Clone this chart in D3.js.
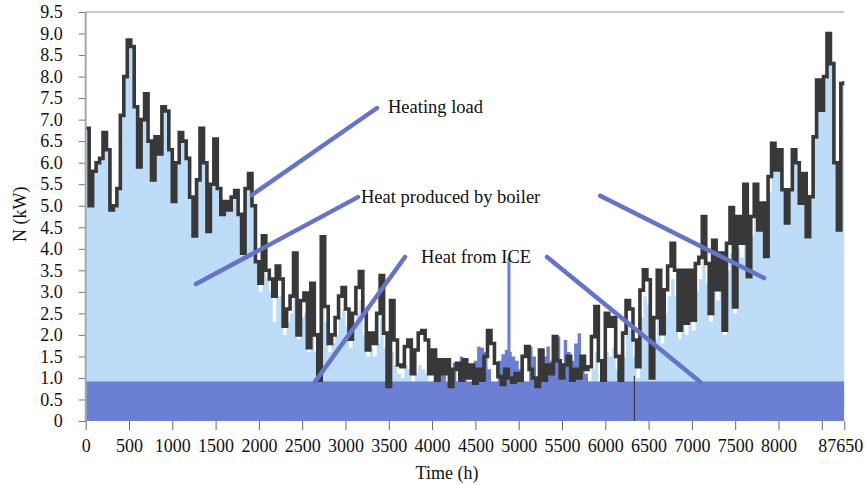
<!DOCTYPE html>
<html>
<head>
<meta charset="utf-8">
<script src="https://cdn.jsdelivr.net/npm/d3@7"></script>
<style>
  body { margin: 0; background: #fff; }
  text { font-family: "Liberation Serif", "Times New Roman", serif; fill: #111; }
</style>
</head>
<body>
<svg id="chart" width="865" height="485" font-family="Liberation Serif, Times New Roman, serif"></svg>
<script>
// ---------------- DATA ----------------
const STEP_HOURS = 40; // one value every 40 h, 0 .. 8760 h

// Heating load (dark line), kW
const heatingLoad = [
  6.8, 5.0, 5.8, 6.0, 6.1, 6.7, 6.3, 4.9, 5.0, 5.4,
  7.1, 8.0, 8.85, 8.7, 7.3, 5.9, 7.0, 7.6, 6.5, 5.6,
  6.6, 6.2, 7.3, 7.2, 6.3, 5.1, 6.0, 6.7, 6.5, 6.1,
  5.2, 4.3, 5.6, 6.8, 6.0, 4.4, 5.5, 6.55, 5.4, 4.8,
  5.1, 4.9, 5.2, 5.35, 4.8, 3.9, 5.4, 5.75, 5.0, 3.7,
  3.2, 4.3, 3.5, 3.3, 2.9, 3.6, 3.3, 2.2, 2.6, 2.9,
  3.9, 2.0, 2.8, 2.97, 1.7, 3.2, 2.0, 0.95, 4.28, 2.66,
  1.8, 2.0, 2.4, 2.9, 3.1, 2.6, 1.9, 2.5, 3.1, 3.47,
  2.5, 1.65, 2.04, 1.8, 2.5, 3.38, 2.04, 0.8, 2.8, 1.88,
  1.3, 1.26, 1.73, 1.88, 1.1, 1.65, 2.04, 2.1, 1.88, 1.1,
  1.65, 0.95, 1.42, 1.1, 1.42, 0.8, 1.2, 1.34, 0.95, 1.42,
  1.0, 1.3, 0.88, 1.2, 0.95, 1.5, 2.1, 1.8, 1.34, 1.03,
  0.85, 1.2, 1.0, 0.9, 1.1, 0.95, 1.5, 1.73, 1.2, 1.0,
  0.8, 1.65, 0.95, 1.3, 1.1, 1.96, 1.4, 1.0, 1.3, 1.5,
  0.95, 1.2, 1.0, 1.5, 1.2, 1.26, 1.96, 2.66, 1.4, 0.95,
  2.5, 2.2, 2.4, 1.5, 0.95, 2.04, 2.8, 2.6, 1.88, 1.26,
  3.04, 3.51, 3.28, 1.0, 2.4, 3.5, 2.03, 3.05, 3.6, 4.13,
  3.5, 2.11, 3.5, 2.27, 3.5, 2.34, 3.66, 3.8, 4.75, 3.66,
  2.5, 4.2, 3.05, 3.9, 2.11, 4.13, 4.96, 2.65, 4.75, 4.13,
  5.5, 3.35, 4.75, 5.5, 4.44, 5.06, 3.82, 5.68, 6.45, 5.83,
  6.3, 5.37, 4.6, 5.37, 6.3, 6.0, 5.06, 5.75, 4.28, 5.21,
  6.6, 7.92, 7.22, 8.0, 9.0, 8.3, 6.0, 4.44, 7.84, 7.9
];

// Heat produced (boiler on top of ICE), light-blue area top, kW
const heatProduced = [
  6.8, 5.0, 5.8, 6.0, 6.1, 6.7, 6.3, 4.9, 5.0, 5.4,
  7.1, 8.0, 8.85, 8.7, 7.3, 5.9, 7.0, 7.6, 6.5, 5.6,
  6.6, 6.2, 7.3, 7.2, 6.3, 5.1, 6.0, 6.7, 6.5, 6.1,
  5.2, 4.3, 5.6, 6.8, 6.0, 4.4, 5.5, 6.55, 5.4, 4.8,
  5.1, 4.9, 5.2, 5.35, 4.8, 3.9, 5.4, 5.75, 5.0, 3.7,
  3.0, 3.5, 3.3, 3.0, 2.3, 2.9, 2.9, 2.0, 2.3, 2.5,
  2.9, 1.9, 2.4, 2.5, 1.6, 2.2, 1.6, 0.92, 2.9, 2.3,
  1.6, 1.8, 2.0, 2.4, 2.6, 2.2, 1.7, 2.1, 2.5, 2.8,
  2.0, 1.5, 1.7, 1.5, 1.8, 2.4, 1.7, 0.92, 1.6, 1.3,
  1.1, 1.0, 1.3, 1.2, 0.92, 1.1, 1.3, 1.2, 1.1, 0.92,
  0.92, 0.92, 0.92, 0.92, 0.92, 0.92, 0.92, 0.92, 0.92, 0.92,
  0.92, 0.92, 0.92, 0.92, 0.92, 0.92, 0.92, 0.92, 0.92, 0.92,
  0.92, 0.92, 0.92, 0.92, 0.92, 0.92, 0.92, 0.92, 0.92, 0.92,
  0.92, 0.92, 0.92, 0.92, 0.92, 0.92, 0.92, 0.92, 0.92, 0.92,
  0.92, 0.92, 0.92, 0.92, 0.92, 0.92, 1.2, 1.6, 0.92, 0.92,
  1.6, 1.5, 1.7, 1.2, 0.92, 1.5, 2.2, 2.1, 1.5, 1.0,
  2.4, 2.9, 2.7, 1.0, 1.9, 2.8, 1.8, 2.5, 2.9, 3.3,
  2.9, 1.9, 2.8, 2.0, 2.8, 2.1, 3.0, 3.3, 3.9, 3.2,
  2.3, 3.5, 2.8, 3.3, 2.0, 3.5, 3.9, 2.5, 4.0, 3.8,
  4.5, 3.3, 4.3, 4.8, 4.4, 4.8, 3.8, 5.3, 6.0, 5.8,
  6.3, 5.37, 4.6, 5.37, 6.3, 6.0, 5.06, 5.75, 4.28, 5.21,
  6.6, 7.92, 7.22, 8.0, 9.0, 8.3, 6.0, 4.44, 7.84, 7.9
];

// Heat from ICE (step series), kW
const iceHours = [0, 4040, 4080, 4120, 4160, 4200, 4240, 4280, 4320, 4360,
  4400, 4480, 4520, 4560, 4600, 4640, 4680, 4760, 4800, 4840,
  4870, 4905, 4920, 4960, 5000, 5040, 5120, 5160, 5200, 5240,
  5280, 5320, 5360, 5400, 5440, 5480, 5520, 5560, 5600, 5640,
  5680, 5720, 5760, 5800, 8760];
const iceHeat = [0.92, 0.92, 1.3, 1.1, 0.92, 1.2, 1.35, 0.92, 1.5, 1.2,
  0.92, 1.4, 1.73, 1.7, 1.6, 1.2, 0.92, 1.4, 1.55, 1.65,
  3.8, 1.6, 1.5, 1.4, 1.2, 0.92, 1.73, 1.5, 0.92, 1.3,
  1.5, 1.73, 1.4, 1.6, 1.96, 1.3, 1.88, 1.6, 1.4, 1.8,
  2.04, 1.4, 1.1, 0.92, 0.92];

// Single-hour drop of the load to zero
const loadDropHour = 6336;
const loadDropRange = [0, 1.05];

// Axis ticks
const yTickValues = [0, 0.5, 1, 1.5, 2, 2.5, 3, 3.5, 4, 4.5, 5, 5.5, 6, 6.5, 7, 7.5, 8, 8.5, 9, 9.5];
const xTickValues = [0, 500, 1000, 1500, 2000, 2500, 3000, 3500, 4000, 4500, 5000, 5500, 6000, 6500, 7000, 7500, 8000, 8500, 8760];
const xTickLabels = ["0", "500", "1000", "1500", "2000", "2500", "3000", "3500", "4000", "4500", "5000", "5500", "6000", "6500", "7000", "7500", "8000", "", "87650"];

// Annotation texts (anchor in data units) and leader lines [h1, v1, h2, v2]
const annotationTexts = [
  { text: "Heating load", h: 3491, v: 7.15 },
  { text: "Heat produced by boiler", h: 3179, v: 5.07 },
  { text: "Heat from ICE", h: 3873, v: 3.67 }
];
const leaderLines = [
  [1920, 5.25, 3364, 7.27],
  [1274, 3.18, 3144, 5.20],
  [2647, 0.91, 3687, 3.81],
  [5327, 3.81, 7093, 0.91],
  [5941, 5.23, 7834, 3.32]
];

// ---------------- CHART ----------------
const FONT = "'Liberation Serif', 'Times New Roman', serif";
const svg = d3.select("#chart");
const x = d3.scaleLinear().domain([0, 8760]).range([85.7, 844.3]);
const y = d3.scaleLinear().domain([0, 9.5]).range([421, 12]);

svg.append("defs").append("clipPath").attr("id", "plotClip")
  .append("rect")
  .attr("x", x(0)).attr("y", y(9.5))
  .attr("width", x(8760) - x(0)).attr("height", y(0) - y(9.5));

const plot = svg.append("g").attr("clip-path", "url(#plotClip)");

// Top border (9.5 line)
svg.append("line")
  .attr("x1", x(0)).attr("x2", x(8760))
  .attr("y1", y(9.5)).attr("y2", y(9.5))
  .attr("stroke", "#b8b8b8").attr("stroke-width", 1.5);

// Heat produced (light blue)
const areaIdx = d3.area()
  .x((d, i) => x(i * STEP_HOURS))
  .y0(y(0))
  .y1(d => y(d))
  .curve(d3.curveStepAfter);
plot.append("path").datum(heatProduced)
  .attr("d", areaIdx)
  .attr("fill", "#bddcf8");

// Heat from ICE (medium blue)
const iceArea = d3.area()
  .x((d, i) => x(iceHours[i]))
  .y0(y(0))
  .y1(d => y(d))
  .curve(d3.curveStepAfter);
plot.append("path").datum(iceHeat)
  .attr("d", iceArea)
  .attr("fill", "#6b80d2");

// Heating load (dark line)
const loadLine = d3.line()
  .x((d, i) => x(i * STEP_HOURS))
  .y(d => y(d))
  .curve(d3.curveStepAfter);
plot.append("path").datum(heatingLoad)
  .attr("d", loadLine)
  .attr("fill", "none")
  .attr("stroke", "#383838")
  .attr("stroke-width", 3.6)
  .attr("stroke-linejoin", "miter");

plot.append("line")
  .attr("x1", x(loadDropHour)).attr("x2", x(loadDropHour))
  .attr("y1", y(loadDropRange[0])).attr("y2", y(loadDropRange[1]))
  .attr("stroke", "#3c3c3c").attr("stroke-width", 1.2);

// Y axis
const yAxis = d3.axisLeft(y)
  .tickValues(yTickValues)
  .tickSize(7)
  .tickPadding(16)
  .tickFormat(d => d === 0 ? "0" : d.toFixed(1));
const gy = svg.append("g").attr("transform", `translate(${x(0)},0)`).call(yAxis);
gy.attr("font-family", FONT);
gy.select(".domain").remove();
gy.selectAll(".tick line").attr("stroke", "#777");
gy.selectAll(".tick text").attr("font-size", 18).attr("fill", "#111")
  .style("font-family", FONT);
svg.append("line")
  .attr("x1", x(0)).attr("x2", x(0))
  .attr("y1", y(0)).attr("y2", y(9.5))
  .attr("stroke", "#a8a8a8").attr("stroke-width", 2);

// X axis
const xAxis = d3.axisBottom(x)
  .tickValues(xTickValues)
  .tickSize(9)
  .tickPadding(9)
  .tickFormat((d, i) => xTickLabels[i]);
const gx = svg.append("g").attr("transform", `translate(0,${y(0)})`).call(xAxis);
gx.attr("font-family", FONT);
gx.select(".domain").remove();
gx.selectAll(".tick line").attr("stroke", "#666");
gx.selectAll(".tick text").attr("font-size", 18).attr("fill", "#111")
  .style("font-family", FONT);
gx.selectAll(".tick text").filter((d, i) => i === xTickValues.length - 1).attr("dx", -4);

// Axis titles
svg.append("text")
  .attr("x", 447)
  .attr("y", 479)
  .attr("text-anchor", "middle")
  .attr("font-size", 18)
  .style("font-family", FONT)
  .text("Time (h)");
svg.append("text")
  .attr("transform", `translate(26,${y(4.8)}) rotate(-90)`)
  .attr("text-anchor", "middle")
  .attr("font-size", 18)
  .style("font-family", FONT)
  .text("N (kW)");

// Leader lines
svg.append("g").selectAll("line").data(leaderLines).join("line")
  .attr("x1", d => x(d[0])).attr("y1", d => y(d[1]))
  .attr("x2", d => x(d[2])).attr("y2", d => y(d[3]))
  .attr("stroke", "#6674c8")
  .attr("stroke-width", 4.5)
  .attr("stroke-linecap", "round");

// Annotation texts
svg.append("g").selectAll("text").data(annotationTexts).join("text")
  .attr("x", d => x(d.h))
  .attr("y", d => y(d.v))
  .attr("font-size", 18.5)
  .style("font-family", FONT)
  .text(d => d.text);
</script>
</body>
</html>
